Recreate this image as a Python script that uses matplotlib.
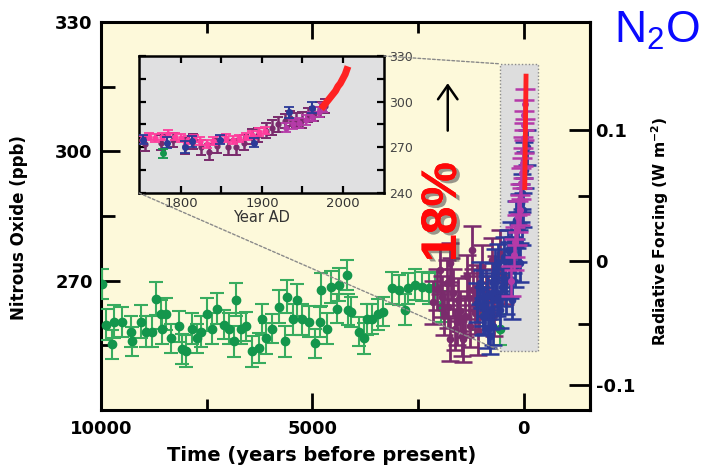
import numpy as np
import matplotlib
matplotlib.use('Agg')
import matplotlib.pyplot as plt
from matplotlib.patches import Rectangle, ConnectionPatch
import matplotlib.patheffects as pe
from matplotlib.ticker import FixedLocator

plt.rcParams['font.family'] = ['DejaVu Sans']
plt.rcParams['font.weight'] = 'bold'
plt.rcParams['mathtext.fontset'] = 'custom'
plt.rcParams['mathtext.rm'] = 'Liberation Sans:weight=normal'
plt.rcParams['mathtext.bf'] = 'DejaVu Sans:weight=bold'

# ---------------- main panel data (years before present, ppb) ----------------
green_bp = [9980, 9880, 9740, 9690, 9500, 9290, 9270, 9050, 8930, 8790, 8700, 8580, 8560, 8460,
            8340, 8150, 8080, 7990, 7840, 7730, 7630, 7490, 7370, 7250, 7090, 6970, 6850, 6800,
            6680, 6560, 6420, 6260, 6190, 6090, 5950, 5780, 5660, 5590, 5470, 5360, 5240, 5070,
            4950, 4830, 4790, 4650, 4550, 4430, 4360, 4190, 4170, 4080, 3910, 3790, 3720, 3600,
            3440, 3320, 3130, 2960, 2820, 2730, 2580, 2420, 2250, 2110, 1950, 1070, 920, 570]
green_ppb = [269.3, 259.8, 255.2, 260.5, 260.5, 258.2, 255.9, 260.5, 258.2, 258.2, 265.8, 262.2,
             258.9, 262.2, 256.6, 259.4, 254.1, 253.6, 258.9, 256.6, 258.2, 262.2, 258.9, 263.5,
             259.8, 258.9, 255.9, 265.6, 258.9, 259.4, 253.6, 254.3, 261.0, 256.6, 258.9, 264.0,
             255.9, 266.3, 261.0, 265.6, 261.0, 260.5, 255.5, 260.5, 267.9, 258.9, 268.6, 263.5,
             269.1, 271.4, 263.3, 262.8, 258.2, 256.6, 261.0, 261.2, 262.2, 262.8, 268.2, 267.9,
             263.3, 268.2, 269.1, 268.6, 268.2, 268.6, 264.0, 262.2, 262.8, 258.7]
green_err = [3.5, 3.6, 3.4, 3.8, 3.5, 3.6, 3.3, 3.8, 3.5, 3.6, 3.8, 3.4, 3.5, 3.7, 3.4, 3.6,
             3.5, 3.7, 3.5, 3.4, 3.6, 3.8, 3.5, 3.6, 3.4, 3.5, 3.6, 3.9, 3.5, 3.4, 3.6, 3.5,
             3.7, 3.5, 3.4, 3.8, 3.6, 3.9, 3.5, 3.7, 3.5, 3.6, 3.4, 3.5, 3.8, 3.6, 3.7, 3.4,
             3.8, 3.5, 3.6, 3.5, 3.4, 3.6, 3.5, 3.5, 3.6, 3.4, 3.7, 3.5, 3.6, 3.5, 3.7, 3.4,
             3.6, 3.5, 3.5, 3.6, 3.4, 3.6]

purple_bp = [2160, 2050, 1990, 1943, 1900, 1825, 1800, 1750, 1750, 1720, 1680, 1635, 1590, 1565,
             1520, 1470, 1445, 1400, 1350, 1300, 1280, 1230, 1210, 1160, 1120, 1090, 1050, 995,
             900, 850, 760, 700, 650, 570, 450]
purple_ppb = [265.0, 268.0, 272.5, 266.3, 262.5, 269.5, 264.0, 274.2, 256.4, 270.5, 267.2, 258.7,
              260.3, 265.6, 263.0, 257.1, 256.4, 261.7, 271.0, 266.0, 259.5, 277.2, 267.9, 262.6,
              268.5, 258.0, 263.5, 273.2, 268.0, 266.0, 274.8, 262.0, 271.0, 276.5, 269.5]
purple_err = [5.0, 4.8, 5.5, 4.8, 5.0, 5.2, 5.0, 4.6, 5.0, 4.8, 5.4, 4.8, 5.2, 5.0, 4.6, 4.6,
              5.2, 4.8, 5.0, 5.0, 4.8, 5.5, 4.8, 5.0, 5.2, 5.2, 4.8, 5.0, 4.6, 5.0, 5.0, 4.8,
              4.8, 5.2, 4.8]

blue_bp = [1115, 1040, 1000, 970, 970, 920, 880, 850, 805, 780, 760, 735, 720, 690, 640, 600,
           570, 520, 480, 450, 420, 380, 360, 330, 300, 285, 250, 215, 190, 165, 140, 120, 95,
           70, 50, 50, 20, 0, -25, -70]
blue_ppb = [264.9, 269.5, 268.0, 261.7, 264.0, 262.0, 266.5, 258.7, 257.1, 263.0, 267.2, 259.4,
            269.5, 272.5, 266.0, 274.0, 263.3, 268.5, 275.5, 270.2, 266.5, 277.2, 274.5, 270.2,
            279.0, 265.6, 276.0, 273.2, 284.0, 281.8, 278.8, 286.0, 274.2, 288.0, 282.5, 290.3,
            286.4, 298.0, 295.6, 300.9]
blue_err = [4.5, 4.8, 4.4, 4.2, 4.6, 4.4, 4.6, 4.4, 4.0, 4.2, 4.6, 4.4, 4.5, 4.8, 4.2, 4.6,
            4.2, 4.4, 4.6, 4.5, 4.2, 4.6, 4.4, 4.2, 4.6, 4.4, 4.2, 4.6, 4.4, 4.2, 4.4, 4.2,
            4.6, 4.4, 4.2, 4.4, 4.0, 4.2, 4.2, 4.0]

magenta_bp = [300, 240, 200, 160, 130, 100, 80, 60, 45, 30, 15, 5, -5, -15, -25]
magenta_ppb = [270.0, 276.0, 279.0, 281.8, 284.8, 286.4, 289.0, 292.6, 295.0, 297.2, 300.0,
               303.0, 306.0, 308.5, 311.0]
magenta_err = [3.5, 3.6, 3.4, 3.5, 3.6, 3.4, 3.5, 3.6, 3.4, 3.5, 3.4, 3.5, 3.4, 3.5, 3.4]

red_bp = [-20, -28, -36, -44, -52]
red_ppb = [291.0, 297.0, 304.0, 311.0, 318.0]

# ---------------- inset data (year AD, ppb) ----------------
ins_pink_yr = [1752, 1760, 1768, 1776, 1784, 1792, 1800, 1808, 1816, 1824, 1832, 1840, 1848,
               1856, 1864, 1872, 1880, 1888, 1896, 1904]
ins_pink_ppb = [275, 277, 276, 277, 279, 277, 276, 275, 276, 274, 272, 274, 275, 276, 275, 276,
                277, 278, 280, 281]
ins_pink_err = [2.5, 2.4, 2.6, 2.5, 2.4, 2.5, 2.6, 2.5, 2.4, 2.5, 2.6, 2.5, 2.4, 2.5, 2.5,
                2.4, 2.5, 2.6, 2.5, 2.4]

ins_maroon_yr = [1755, 1775, 1790, 1805, 1815, 1825, 1835, 1845, 1858, 1868, 1878, 1888, 1895,
                 1905, 1912, 1920, 1928, 1935, 1942, 1950, 1957, 1965, 1972, 1978]
ins_maroon_ppb = [272, 273, 275, 271, 274, 270, 267, 271, 270, 270, 273, 277, 278, 281, 283,
                  285, 287, 289, 288, 288, 291, 292, 295, 297]
ins_maroon_err = [4.5, 5.0, 4.6, 5.2, 4.8, 5.0, 5.4, 4.6, 5.0, 5.2, 4.8, 5.0, 4.6, 5.0, 4.8,
                  5.2, 4.6, 5.0, 4.8, 5.0, 4.6, 4.8, 5.0, 4.6]

ins_violet_yr = [1930, 1938, 1946, 1954, 1962, 1970, 1976]
ins_violet_ppb = [283, 285, 286, 288, 290, 293, 296]
ins_violet_err = [3.0, 3.2, 3.0, 3.1, 3.0, 3.2, 3.0]

ins_blue_yr = [1753, 1783, 1805, 1813, 1848, 1890, 1933, 1962]
ins_blue_ppb = [275, 273, 270, 274, 275, 273, 293, 296]
ins_blue_err = [3.0, 3.5, 4.0, 3.5, 3.0, 3.0, 3.5, 3.5]

ins_green_yr = [1778]
ins_green_ppb = [266]
ins_green_err = [3.0]

ins_red_yr = [1976, 1979, 1982, 1985, 1988, 1991, 1994, 1997, 2000, 2003, 2005]
ins_red_ppb = [297, 299, 301, 303, 305, 307, 310, 312, 315, 318, 321]

# colors
C_GREEN = '#14964c'
C_GREEN_E = '#38ac5f'
C_MAROON = '#7a2b6c'
C_BLUE = '#2b3a98'
C_MAG = '#b53aa8'
C_PINK = '#ff3d9d'
C_RED = '#ff2222'

fig = plt.figure(figsize=(7.04, 4.65), dpi=100)
W, H = 704, 465

# ---------------- main axes ----------------
ax = fig.add_axes([101 / W, 1 - 410 / H, 489 / W, 388 / H])
ax.set_facecolor('#fdf9da')
ax.set_xlim(10000, -1564)
ax.set_ylim(240, 330)

# zoom rectangle
rect_x0, rect_x1 = 569, -332
rect_y0, rect_y1 = 253.8, 320.3
ax.add_patch(Rectangle((rect_x0, rect_y0), rect_x1 - rect_x0, rect_y1 - rect_y0,
                       facecolor='#dddddd', edgecolor='#8a8a8a', linestyle=(0, (1, 1.5)),
                       lw=1.0, zorder=1))

ax.errorbar(green_bp, green_ppb, yerr=green_err, fmt='o', color=C_GREEN, ecolor=C_GREEN_E,
            ms=6, capsize=4.8, elinewidth=1.5, capthick=1.5, zorder=3)
ax.errorbar(purple_bp, purple_ppb, yerr=purple_err, fmt='o', color=C_MAROON, ecolor=C_MAROON,
            ms=4.5, capsize=6.5, elinewidth=2.0, capthick=1.8, zorder=4)
ax.errorbar(blue_bp, blue_ppb, yerr=blue_err, fmt='o', color=C_BLUE, ecolor=C_BLUE,
            ms=4.5, capsize=6.5, elinewidth=2.0, capthick=1.8, zorder=5)
ax.errorbar(magenta_bp, magenta_ppb, yerr=magenta_err, fmt='o', color=C_MAG, ecolor=C_MAG,
            ms=4, capsize=7, elinewidth=1.8, capthick=1.8, zorder=6)
ax.plot(red_bp, red_ppb, color=C_RED, lw=3.5, zorder=7, solid_capstyle='butt')

for s in ax.spines.values():
    s.set_linewidth(2.2)

ax.set_xticks([10000, 5000, 0])
ax.set_xticklabels(['10000', '5000', '0'])
ax.xaxis.set_minor_locator(FixedLocator([7500, 2500]))
ax.set_yticks([270, 300, 330])
ax.set_yticklabels(['270', '300', '330'])
ax.yaxis.set_minor_locator(FixedLocator([255, 285, 315]))
ax.tick_params(axis='x', which='major', direction='in', length=12, width=2, top=True,
               labelsize=13, pad=7)
ax.tick_params(axis='x', which='minor', direction='in', length=8, width=2, top=True)
ax.tick_params(axis='y', which='major', direction='in', length=14, width=2, right=False,
               labelsize=13, pad=6)
ax.tick_params(axis='y', which='minor', direction='in', length=10, width=2, right=False)

# radiative forcing axis
N0 = 274.6
K = 0.112


def to_forcing(n):
    return K * (np.sqrt(np.clip(n, 1.0, None)) - np.sqrt(N0))


def to_ppb(f):
    return (np.asarray(f) / K + np.sqrt(N0)) ** 2


sec = ax.secondary_yaxis('right', functions=(to_forcing, to_ppb))
sec.set_yticks([-0.1, 0, 0.1])
sec.set_yticklabels(['-0.1', '0', '0.1'])
sec.yaxis.set_minor_locator(FixedLocator([-0.05, 0.05]))
sec.tick_params(which='major', direction='in', length=15, width=2, labelsize=13, pad=4)
sec.tick_params(which='minor', direction='in', length=9, width=2)
sec.spines['right'].set_linewidth(2.2)

fig.text(19 / W, 1 - 228 / H, 'Nitrous Oxide (ppb)', rotation=90, ha='center', va='center',
         fontsize=12, fontweight='bold')
fig.text(322 / W, 1 - 455 / H, 'Time (years before present)', ha='center', va='center',
         fontsize=14, fontweight='bold')
fig.text(660 / W, 1 - 231 / H, r'Radiative Forcing (W m$^{\mathbf{-2}}$)', rotation=90,
         ha='center', va='center', fontsize=11.2, fontweight='bold')

# arrow
ax.annotate('', xy=(1800, 315.8), xytext=(1800, 304.8),
            arrowprops=dict(arrowstyle='->,head_length=0.5,head_width=0.35', lw=1.8,
                            color='black', mutation_scale=20, shrinkA=0, shrinkB=0),
            annotation_clip=False, zorder=8)

# ---------------- inset ----------------
ins = fig.add_axes([139 / W, 1 - 193 / H, 245 / W, 137 / H])
ins.set_facecolor('#e0e0e1')
ins.set_xlim(1748, 2051)
ins.set_ylim(240, 330)
ins.errorbar(ins_maroon_yr, ins_maroon_ppb, yerr=ins_maroon_err, fmt='o', color=C_MAROON,
             ecolor=C_MAROON, ms=3.5, capsize=3.8, elinewidth=1.8, capthick=1.4, zorder=3)
ins.errorbar(ins_pink_yr, ins_pink_ppb, yerr=ins_pink_err, fmt='o', color=C_PINK, ecolor=C_PINK,
             ms=3.5, capsize=3.5, elinewidth=1.3, capthick=1.3, zorder=4)
ins.errorbar(ins_violet_yr, ins_violet_ppb, yerr=ins_violet_err, fmt='o', color=C_MAG,
             ecolor=C_MAG, ms=3.5, capsize=3.5, elinewidth=1.5, capthick=1.3, zorder=5)
ins.errorbar(ins_blue_yr, ins_blue_ppb, yerr=ins_blue_err, fmt='o', color=C_BLUE, ecolor=C_BLUE,
             ms=4, capsize=3.5, elinewidth=1.5, capthick=1.3, zorder=6)
ins.errorbar(ins_green_yr, ins_green_ppb, yerr=ins_green_err, fmt='o', color=C_GREEN,
             ecolor=C_GREEN, ms=4, capsize=3.5, elinewidth=1.3, capthick=1.3, zorder=6)
ins.plot(ins_red_yr, ins_red_ppb, color=C_RED, lw=5, zorder=7)

for s in ins.spines.values():
    s.set_linewidth(1.8)
ins.set_xticks([1800, 1900, 2000])
ins.set_xticklabels(['1800', '1900', '2000'])
ins.xaxis.set_minor_locator(FixedLocator([1850, 1950]))
ins.set_yticks([240, 270, 300, 330])
ins.set_yticklabels(['240', '270', '300', '330'])
ins.yaxis.set_minor_locator(FixedLocator([255, 285, 315]))
ins.tick_params(which='both', direction='in', length=5, width=1.6, top=True, right=True,
                left=True, bottom=True)
ins.tick_params(axis='y', labelleft=False, labelright=True, labelsize=9, pad=4,
                labelcolor='#444444')
ins.tick_params(axis='x', labelsize=9.5, pad=3, labelcolor='#333333')
for lab in ins.get_xticklabels() + ins.get_yticklabels():
    lab.set_fontweight('normal')
ins.set_xlabel('Year AD', fontsize=10.5, fontweight='normal', color='#333333', labelpad=0)

# connectors
for (xa, ya), (xb, yb) in [((1, 1), (rect_x0, rect_y1)), ((0, 0), (rect_x0, rect_y0))]:
    cp = ConnectionPatch(xyA=(xa, ya), coordsA=ins.transAxes, xyB=(xb, yb),
                         coordsB=ax.transData, color='#8a8a8a', lw=1.0,
                         linestyle=(0, (2, 1.5)), zorder=2)
    fig.add_artist(cp)

# annotations
fig.text(443 / W, 1 - 212 / H, '18%', rotation=90, ha='center', va='center', fontsize=36,
         fontweight='bold', family='Liberation Sans', color='#ff0808',
         path_effects=[pe.withSimplePatchShadow(offset=(2.5, -2), shadow_rgbFace='#555555',
                                                alpha=0.6), pe.Normal()])
fig.text(614 / W, 1 - 43 / H, r'N$_2$O', ha='left', va='baseline', fontsize=32,
         fontweight='normal', family='Liberation Sans', color='#0a0aff')

fig.savefig('out.png', dpi=100)
